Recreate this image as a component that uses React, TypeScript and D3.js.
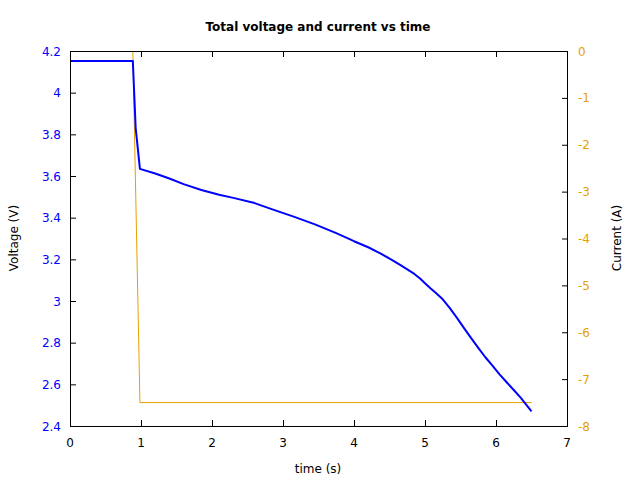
import React from "react";
import * as d3 from "d3";

const timeV = [0, 0.885, 0.925, 0.985, 1.2, 1.4, 1.6, 1.85, 2.1, 2.3, 2.6, 2.85, 3.15, 3.45, 3.75, 4.0, 4.2, 4.37, 4.52, 4.65, 4.75, 4.85, 4.93, 5.0, 5.08, 5.15, 5.25, 5.35, 5.45, 5.55, 5.65, 5.75, 5.85, 5.95, 6.05, 6.15, 6.25, 6.35, 6.5];
const voltage = [4.152, 4.152, 3.83, 3.634, 3.612, 3.588, 3.561, 3.533, 3.51, 3.495, 3.47, 3.44, 3.405, 3.368, 3.326, 3.287, 3.258, 3.229, 3.2, 3.173, 3.152, 3.13, 3.108, 3.085, 3.06, 3.04, 3.008, 2.966, 2.919, 2.87, 2.822, 2.775, 2.73, 2.69, 2.648, 2.61, 2.573, 2.535, 2.47];
const timeI = [0, 0.885, 0.985, 6.5];
const current = [0, 0, -7.5, -7.5];

const xTicks = [0, 1, 2, 3, 4, 5, 6, 7];
const vTicks = [2.4, 2.6, 2.8, 3, 3.2, 3.4, 3.6, 3.8, 4, 4.2];
const iTicks = [0, -1, -2, -3, -4, -5, -6, -7, -8];

const W = 640, H = 480;
const L = 70, R = 567, T = 51, B = 426;
const BLUE = "#0000ff";
const ORANGE = "#e69f00";
const FONT = "DejaVu Sans, sans-serif";

export default function App() {
  const x = d3.scaleLinear().domain([0, 7]).range([L, R]);
  const yV = d3.scaleLinear().domain([2.4, 4.2]).range([B, T]);
  const yI = d3.scaleLinear().domain([-8, 0]).range([B, T]);

  const vLine = d3.line<number>().x((_, i) => x(timeV[i])).y((d) => yV(d))(voltage) || "";
  const iLine = d3.line<number>().x((_, i) => x(timeI[i])).y((d) => yI(d))(current) || "";

  const tk = 6;
  return (
    <svg width={W} height={H} style={{ position: "absolute", left: 0, top: 0, background: "#fff" }} fontFamily={FONT}>
      <defs>
        <clipPath id="plotclip">
          <rect x={L + 1} y={T + 1} width={R - L - 2} height={B - T - 2} />
        </clipPath>
      </defs>
      <rect x={0} y={0} width={W} height={H} fill="#fff" />
      <text x={318} y={31} textAnchor="middle" fontSize={12} fontWeight="bold">Total voltage and current vs time</text>
      <g clipPath="url(#plotclip)">
        <path d={iLine} fill="none" stroke={ORANGE} strokeWidth={1} />
        <path d={vLine} fill="none" stroke={BLUE} strokeWidth={2} strokeLinejoin="round" />
      </g>
      <rect x={L + 0.5} y={T + 0.5} width={R - L} height={B - T} fill="none" stroke="#000" strokeWidth={1} />
      {xTicks.map((t) => (
        <g key={"x" + t}>
          <line x1={x(t) + 0.5} x2={x(t) + 0.5} y1={B} y2={B - tk} stroke="#000" />
          <line x1={x(t) + 0.5} x2={x(t) + 0.5} y1={T} y2={T + tk} stroke="#000" />
          <text x={x(t)} y={447} textAnchor="middle" fontSize={12} fill="#000">{t}</text>
        </g>
      ))}
      {vTicks.map((v) => (
        <g key={"v" + v}>
          <line x1={L} x2={L + tk} y1={yV(v) + 0.5} y2={yV(v) + 0.5} stroke="#000" />
          <text x={61} y={yV(v) + 4.5} textAnchor="end" fontSize={12} fill={BLUE}>{String(v)}</text>
        </g>
      ))}
      {iTicks.map((v) => (
        <g key={"i" + v}>
          <line x1={R + 1} x2={R + 1 - tk} y1={yI(v) + 0.5} y2={yI(v) + 0.5} stroke="#000" />
          <text x={578} y={yI(v) + 4.5} textAnchor="start" fontSize={12} fill={ORANGE}>{String(v)}</text>
        </g>
      ))}
      <text transform={`translate(18,238) rotate(-90)`} textAnchor="middle" fontSize={12}>Voltage (V)</text>
      <text transform={`translate(621,238) rotate(-90)`} textAnchor="middle" fontSize={12}>Current (A)</text>
      <text x={318} y={473} textAnchor="middle" fontSize={12}>time (s)</text>
    </svg>
  );
}
